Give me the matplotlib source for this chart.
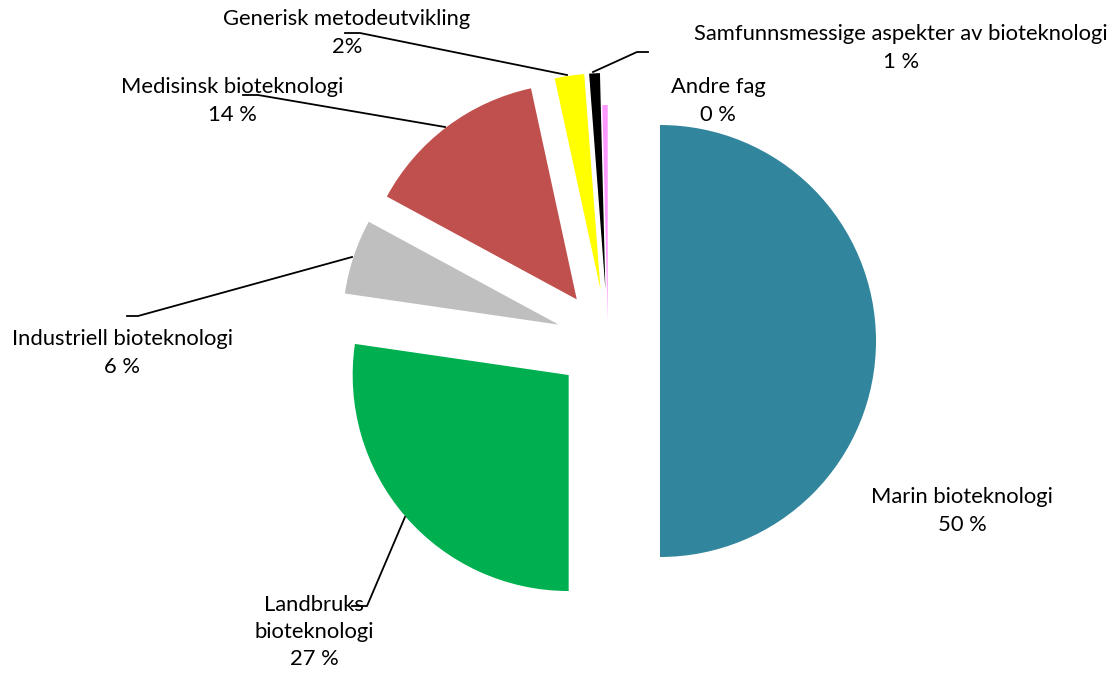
import matplotlib.pyplot as plt

# fagomraader, andel (%)
categories = ['Marin bioteknologi', 'Landbruks\nbioteknologi', 'Industriell bioteknologi',
              'Medisinsk bioteknologi', 'Generisk metodeutvikling',
              'Samfunnsmessige aspekter av bioteknologi', 'Andre fag']
values = [50.0, 27.3, 5.6, 13.7, 2.2, 0.8, 0.4]
pct_labels = ['50 %', '27 %', '6 %', '14 %', '2%', '1 %', '0 %']

colors = ['#31859C', '#00B050', '#BFBFBF', '#C0504D', '#FFFF00', '#000000', '#FF99FF']
explode = [52, 52, 52, 52, 52, 52, 20]

W, H = 1117, 675
fig = plt.figure(figsize=(W / 100, H / 100), dpi=100)
ax = fig.add_axes([0, 0, 1, 1])

ax.pie(values, colors=colors, explode=explode, startangle=90, counterclock=False,
       center=(608, H - 341), radius=216, wedgeprops=dict(linewidth=0))
ax.set_xlim(0, W)
ax.set_ylim(0, H)
ax.set_aspect('equal')
ax.axis('off')

# label positions (pixel coords, top-left origin)
label_pos = [(962, 511), (314, 632), (122, 353), (232, 101), (347, 33), (901, 48), (718, 101)]
for cat, pct, (px, py) in zip(categories, pct_labels, label_pos):
    ax.text(px, H - py, cat + '\n' + pct, ha='center', va='center', fontsize=15.8,
            family='Lato', linespacing=1.45, color='#000000')

# leader lines
leaders = [
    [(345, 33), (360, 33), (567, 75)],
    [(243, 95), (258, 95), (445, 127)],
    [(648, 52), (637, 52), (593, 72)],
    [(127, 316), (138, 316), (352, 257)],
    [(352, 606), (367, 606), (405, 517)],
]
for pts in leaders:
    ax.plot([p[0] for p in pts], [H - p[1] for p in pts], color='black', lw=1.3)

fig.savefig('out.png', dpi=100)
